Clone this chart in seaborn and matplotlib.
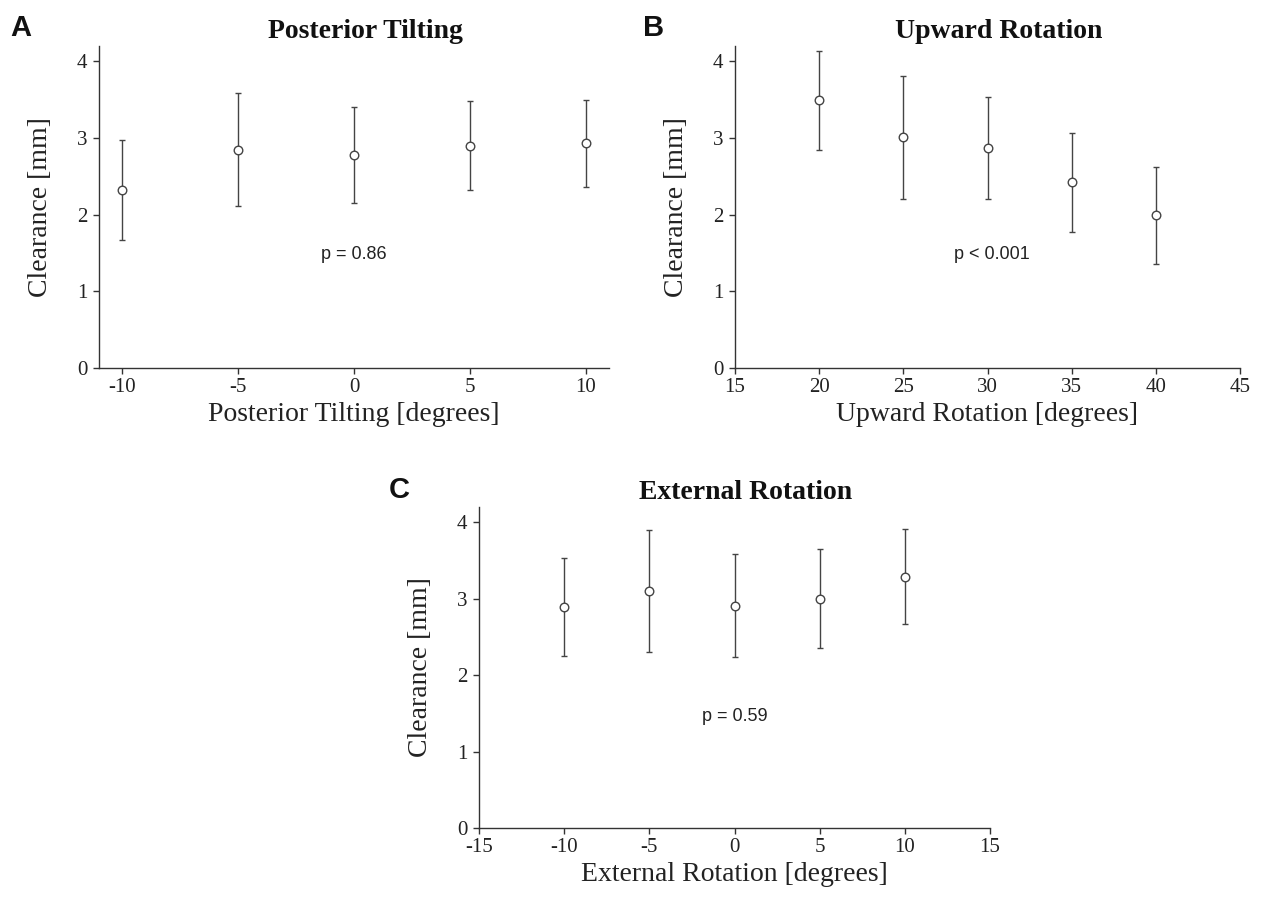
import matplotlib
matplotlib.use("Agg")
import matplotlib.pyplot as plt
import seaborn as sns
import pandas as pd

# ---- data ----
tilt_x = [-10, -5, 0, 5, 10]
tilt_mean = [2.32, 2.85, 2.78, 2.90, 2.93]
tilt_sd = [0.65, 0.74, 0.63, 0.58, 0.57]

upward_x = [20, 25, 30, 35, 40]
upward_mean = [3.49, 3.01, 2.87, 2.42, 1.99]
upward_sd = [0.65, 0.80, 0.67, 0.65, 0.63]

ext_x = [-10, -5, 0, 5, 10]
ext_mean = [2.89, 3.10, 2.91, 3.00, 3.29]
ext_sd = [0.64, 0.80, 0.67, 0.65, 0.62]

titles = ["Posterior Tilting", "Upward Rotation", "External Rotation"]
xlabels = ["Posterior Tilting [degrees]", "Upward Rotation [degrees]", "External Rotation [degrees]"]
ylabel = "Clearance [mm]"
pvalues = ["p = 0.86", "p < 0.001", "p = 0.59"]
panel_letters = ["A", "B", "C"]
xticks_list = [[-10, -5, 0, 5, 10], [15, 20, 25, 30, 35, 40, 45], [-15, -10, -5, 0, 5, 10, 15]]
yticks = [0, 1, 2, 3, 4]

sns.set_theme(style="ticks")
plt.rcParams["axes.unicode_minus"] = False
plt.rcParams["font.family"] = ["Liberation Serif", "DejaVu Serif"]

W, H = 1265, 899
fig = plt.figure(figsize=(W / 100, H / 100), dpi=100)

def px_axes(left, right, top, bottom):
    return fig.add_axes([left / W, 1 - bottom / H, (right - left) / W, (bottom - top) / H])

axes = [
    px_axes(99, 609, 46, 368),
    px_axes(735, 1240, 46, 368),
    px_axes(479, 990, 507, 828),
]
xlims = [(-11, 11), (15, 45), (-15, 15)]
ptext_pos = [(0, 1.48), (30.25, 1.48), (0, 1.46)]
datasets = [(tilt_x, tilt_mean, tilt_sd), (upward_x, upward_mean, upward_sd), (ext_x, ext_mean, ext_sd)]
color = "#333333"

for i, ax in enumerate(axes):
    xs, ms, sds = datasets[i]
    df = pd.DataFrame({"x": xs, "y": ms, "sd": sds})
    ax.errorbar(df["x"], df["y"], yerr=df["sd"], fmt="none", ecolor="#444444",
                elinewidth=1.0, capsize=2.5, capthick=1.0, zorder=2)
    sns.scatterplot(data=df, x="x", y="y", ax=ax, marker="o", s=38,
                    facecolor="white", edgecolor="#444444", linewidth=1.0, zorder=3)
    ax.set_xlim(*xlims[i])
    ax.set_ylim(0, 4.2)
    ax.set_xticks(xticks_list[i])
    ax.set_yticks(yticks)
    ax.tick_params(axis="both", direction="out", length=4.3, width=1, colors=color,
                   labelsize=15, labelcolor="#222222")
    ax.tick_params(axis="x", pad=3.2)
    ax.tick_params(axis="y", pad=4.1)
    for s in ["top", "right"]:
        ax.spines[s].set_visible(False)
    for s in ["left", "bottom"]:
        ax.spines[s].set_linewidth(1.0)
        ax.spines[s].set_color(color)
    ax.set_xlabel(xlabels[i], fontsize=20, color="#222222", labelpad=3)
    ax.set_ylabel(ylabel, fontsize=20, color="#222222", labelpad=17)
    ax.set_title(titles[i], fontsize=20, fontweight="bold", color="#111111", pad=5.5,
                 x=0.522)
    px, py = ptext_pos[i]
    ax.text(px, py, pvalues[i], ha="center", va="center", fontsize=13,
            family=["Liberation Sans", "DejaVu Sans"], color="#222222")

# panel letters
letter_pos = [(21, 28), (654, 28), (399, 490)]
for (lx, ly), letter in zip(letter_pos, panel_letters):
    fig.text(lx / W, 1 - ly / H, letter, ha="center", va="center", fontsize=21,
             fontweight="bold", family=["Liberation Sans", "DejaVu Sans"], color="#111111")

fig.savefig("out.png", dpi=100, facecolor="white")
